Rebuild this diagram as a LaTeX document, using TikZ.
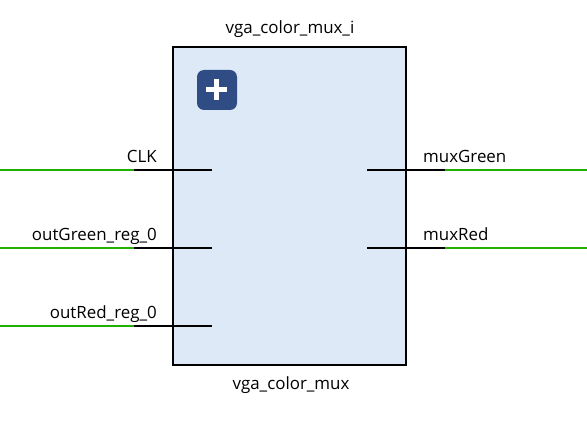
\documentclass[tikz,border=0pt]{standalone}
\usepackage{fontspec}
\setmainfont{Open Sans}
\usetikzlibrary{positioning}
\definecolor{blockfill}{HTML}{DEE9F8}
\definecolor{netgreen}{HTML}{22B000}
\definecolor{iconblue}{HTML}{2F4C85}
\begin{document}
\begin{tikzpicture}[
    x=1pt, y=-1pt,
    block/.style={draw, line width=1.6pt, fill=blockfill, minimum width=233pt, minimum height=318pt, inner sep=0pt},
    icon/.style={fill=iconblue, rounded corners=7pt, minimum size=40pt, inner sep=0pt},
    plus/.style={fill=white, inner sep=0pt},
    lbl/.style={font=\fontsize{16.9}{20}\selectfont, inner sep=0pt},
    pin/.style={line width=1.6pt},
    net/.style={line width=1.8pt, netgreen}]
\useasboundingbox (0,0) rectangle (587,422);
\node[block] (mux) at (289.5,206) {};
\node[icon] (exp) at (217,90) {};
\node[plus, minimum width=21pt, minimum height=5pt] (plush) at (216.5,90) {};
\node[plus, minimum width=5pt, minimum height=21pt] (plusv) at (216.5,90) {};
\node[lbl, anchor=base] (inst) at (290,34) {vga\_color\_mux\_i};
\node[lbl, anchor=base] (name) at (291,389) {vga\_color\_mux};
% left side
\coordinate (clkin) at (212,170);
\coordinate (clkpin) at (134,170);
\coordinate (clkend) at (0,170);
\coordinate (grnin) at (212,248);
\coordinate (grnpin) at (134,248);
\coordinate (grnend) at (0,248);
\coordinate (redin) at (212,326);
\coordinate (redpin) at (134,326);
\coordinate (redend) at (0,326);
\draw[net] (clkend) -- (clkpin);
\draw[net] (grnend) -- (grnpin);
\draw[net] (redend) -- (redpin);
\draw[pin] (clkpin) -- (clkin);
\draw[pin] (grnpin) -- (grnin);
\draw[pin] (redpin) -- (redin);
\node[lbl, anchor=base east] (clk) at (157,163) {CLK};
\node[lbl, anchor=base east] (grn) at (157,241) {outGreen\_reg\_0};
\node[lbl, anchor=base east] (red) at (157,318.5) {outRed\_reg\_0};
% right side
\coordinate (mgout) at (367,170);
\coordinate (mgpin) at (445,170);
\coordinate (mgend) at (587,170);
\coordinate (mrout) at (367,248);
\coordinate (mrpin) at (445,248);
\coordinate (mrend) at (587,248);
\draw[net] (mgpin) -- (mgend);
\draw[net] (mrpin) -- (mrend);
\draw[pin] (mgout) -- (mgpin);
\draw[pin] (mrout) -- (mrpin);
\node[lbl, anchor=base west] (mg) at (423,163) {muxGreen};
\node[lbl, anchor=base west] (mr) at (423,241) {muxRed};
\end{tikzpicture}
\end{document}
